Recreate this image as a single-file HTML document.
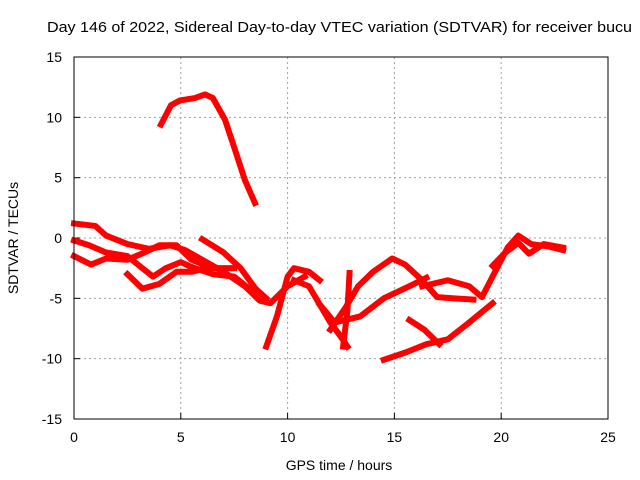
<!DOCTYPE html>
<html><head><meta charset="utf-8"><style>
body{margin:0;background:#fff}
svg{display:block;font-family:"Liberation Sans",sans-serif}
</style></head><body>
<svg id="chart" width="640" height="480">
<text x="47" y="32" font-size="15" textLength="585" lengthAdjust="spacingAndGlyphs">Day 146 of 2022, Sidereal Day-to-day VTEC variation (SDTVAR) for receiver bucu</text>
<text x="339" y="470" font-size="14" text-anchor="middle">GPS time / hours</text>
<text transform="translate(18,238) rotate(-90)" font-size="14" text-anchor="middle">SDTVAR / TECUs</text>
<g id="grid"></g>
<g id="axes"></g>
<g id="marks"></g>
<rect x="74" y="57" width="534" height="362" fill="none" stroke="#000" stroke-width="1"/>
</svg>
<script>
const xTicks=[0,5,10,15,20,25];
const yTicks=[-15,-10,-5,0,5,10,15];
const hA=[4.07,4.54,4.96,5.66,6.13,6.5,7.07,7.54,8.0,8.47];
const vA=[9.4,11.0,11.4,11.6,11.9,11.6,9.8,7.3,4.8,2.9];
const hB=[0,1,1.5,2.5,3.5,4.5,5.2,6,7,8,8.7,9.2,10,10.8];
const vB=[1.2,1.0,0.2,-0.5,-0.9,-0.6,-1.0,-1.8,-2.8,-4,-5.2,-5.4,-4,-3.2];
const hC=[0,0.7,1.5,2.5,3.2,3.7,4.3,5,5.5,6.5,7.5,8.2];
const vC=[-0.2,-0.6,-1.2,-1.5,-2.5,-3.2,-2.5,-2,-2.4,-3,-3.2,-4.2];
const hD=[0,0.8,1.5,2.5,3.3,4,4.8,5.5,6.5,7.5];
const vD=[-1.5,-2.2,-1.7,-1.8,-1.2,-0.6,-0.6,-1.8,-2.5,-2.5];
const hE=[2.5,3.2,4,4.8,5.5,6.2];
const vE=[-3,-4.2,-3.8,-2.8,-2.8,-2.5];
const hF=[6,7,7.8,8.5,9];
const vF=[-0.1,-1.2,-2.5,-4.2,-5];
const hG=[9,9.5,10,10.3,11,11.5];
const vG=[-9,-6.5,-3.2,-2.5,-2.8,-3.5];
const hH=[10.3,11,11.5,12,12.5,12.8];
const vH=[-3.5,-4,-5.5,-7,-8.2,-9];
const hI=[12,12.7,13.3,14,14.9,15.5,16.3,17,17.8,18.7];
const vI=[-7.6,-5.8,-4,-2.8,-1.7,-2.2,-3.5,-4.9,-5,-5.1];
const hJ=[12.9,12.8,12.6];
const vJ=[-2.9,-6,-9];
const hK=[11.5,12.2,13.4,14.5,15.7,16.5];
const vK=[-5.5,-7,-6.5,-5,-4,-3.3];
const hL=[14.5,15.5,16.5,17.5,18.5,19.6];
const vL=[-10.1,-9.5,-8.8,-8.4,-7,-5.4];
const hM=[15.7,16.4,17.1];
const vM=[-6.8,-7.6,-8.8];
const hN=[16.3,17.5,18.5,19.1,19.8,20.3,20.8,21.4,22.2,22.9];
const vN=[-4,-3.5,-4,-4.9,-2.5,-0.8,0.2,-0.5,-0.7,-1];
const hO=[19.6,20.2,20.8,21.3,22,22.9];
const vO=[-2.3,-1.2,-0.4,-1.3,-0.5,-0.8];
const series=[[hA,vA],[hB,vB],[hC,vC],[hD,vD],[hE,vE],[hF,vF],[hG,vG],[hH,vH],[hI,vI],[hJ,vJ],[hK,vK],[hL,vL],[hM,vM],[hN,vN],[hO,vO]];
const X=h=>74+h*(534/25);
const Y=v=>238-v*(362/30);
const NS="http://www.w3.org/2000/svg";
const grid=document.getElementById('grid'),axes=document.getElementById('axes'),marks=document.getElementById('marks');
function mk(t,a){const e=document.createElementNS(NS,t);for(const k in a)e.setAttribute(k,a[k]);return e;}
xTicks.forEach(t=>{
 if(t>0&&t<25){const l=mk('line',{x1:X(t),x2:X(t),y1:57,y2:419,stroke:'#a0a0a0','stroke-dasharray':'2,3'});
 
 grid.appendChild(l);}
 const tk=mk('line',{x1:X(t),x2:X(t),y1:419,y2:413,stroke:'#000'});axes.appendChild(tk);
 const tx=mk('text',{x:X(t),y:442,'font-size':14,'text-anchor':'middle'});tx.textContent=t;
 
 axes.appendChild(tx);
});
yTicks.forEach(t=>{
 if(t>-15&&t<15){const l=mk('line',{x1:74,x2:608,y1:Y(t),y2:Y(t),stroke:'#a0a0a0','stroke-dasharray':'2,3'});
 
 grid.appendChild(l);}
 axes.appendChild(mk('line',{x1:74,x2:80,y1:Y(t),y2:Y(t),stroke:'#000'}));
 const tx=mk('text',{x:62,y:Y(t)+5,'font-size':14,'text-anchor':'end'});tx.textContent=t;
 
 axes.appendChild(tx);
});
series.forEach((s,i)=>{
 const pts=s[0].map((h,j)=>X(h)+','+Y(s[1][j])).join(' ');
 const p=mk('polyline',{points:pts,fill:'none',stroke:'#ff0000','stroke-width':6,'stroke-linejoin':'round','stroke-linecap':'square'});
 
 
 marks.appendChild(p);
});
</script>
</body></html>
